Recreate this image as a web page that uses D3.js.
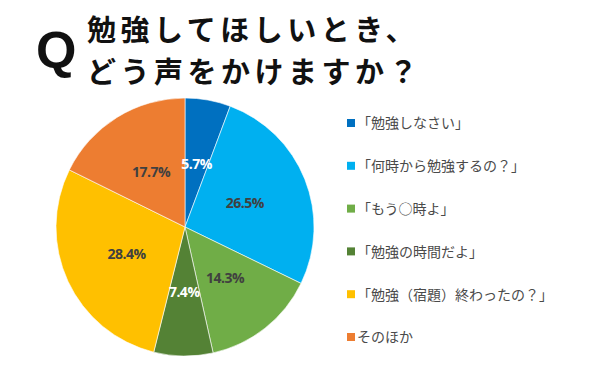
<!DOCTYPE html>
<html>
<head>
<meta charset="utf-8">
<script src="https://cdn.jsdelivr.net/npm/d3@7"></script>
<style>
  body { margin: 0; background: #fff; }
  svg { display: block; }
</style>
</head>
<body>
<div id="chart"></div>
<script>
// answers, clockwise from 12 o'clock
var labels = ["「勉強しなさい」", "「何時から勉強するの？」", "「もう○時よ」", "「勉強の時間だよ」", "「勉強（宿題）終わったの？」", "そのほか"];
var values = [5.7, 26.5, 14.3, 7.4, 28.4, 17.7];
var colors = ["#0070c0", "#00b0f0", "#70ad47", "#548235", "#ffc000", "#ed7d31"];
var labelColors = ["#fff", "#404040", "#404040", "#fff", "#404040", "#404040"];
var titleLines = ["勉強してほしいとき、", "どう声をかけますか？"];

var width = 600, height = 371;
var cx = 185, cy = 227, r = 129;

var svg = d3.select("#chart").append("svg")
    .attr("width", width)
    .attr("height", height);

// title
svg.append("text")
    .attr("x", 36)
    .attr("y", 68)
    .attr("font-family", "'Liberation Sans Narrow', 'Liberation Sans', sans-serif")
    .attr("font-weight", "bold")
    .attr("font-size", 52)
    .attr("fill", "#111")
    .text("Q");

svg.selectAll(".title")
    .data(titleLines)
    .enter().append("text")
    .attr("class", "title")
    .attr("x", 87)
    .attr("y", function (d, i) { return 41 + i * 42; })
    .attr("font-family", "'Noto Sans CJK JP', sans-serif")
    .attr("font-weight", 700)
    .attr("font-size", 29)
    .attr("letter-spacing", 4.5)
    .attr("fill", "#111")
    .text(function (d) { return d; });

// pie
var pie = d3.pie().sort(null).value(function (d) { return d; });
var arc = d3.arc().innerRadius(0).outerRadius(r);
var arcs = pie(values);

var g = svg.append("g")
    .attr("transform", "translate(" + cx + "," + cy + ")");

g.selectAll(".slice")
    .data(arcs)
    .enter().append("path")
    .attr("class", "slice")
    .attr("d", arc)
    .attr("fill", function (d, i) { return colors[i]; })
    .attr("stroke", "#fff")
    .attr("stroke-width", 0.6);

g.selectAll(".pct")
    .data(arcs)
    .enter().append("text")
    .attr("class", "pct")
    .attr("transform", function (d) { return "translate(" + arc.centroid(d) + ")"; })
    .attr("text-anchor", "middle")
    .attr("dy", "0.36em")
    .attr("font-family", "'Open Sans', sans-serif")
    .attr("font-weight", "bold")
    .attr("font-size", 14)
    .attr("letter-spacing", -0.5)
    .attr("fill", function (d, i) { return labelColors[i]; })
    .text(function (d) { return d.data.toFixed(1) + "%"; });

// legend
var ly = d3.scalePoint().domain(d3.range(labels.length)).range([123, 337]);

var legend = svg.selectAll(".legend")
    .data(labels)
    .enter().append("g")
    .attr("class", "legend")
    .attr("transform", function (d, i) { return "translate(347," + ly(i) + ")"; });

legend.append("rect")
    .attr("x", 0)
    .attr("y", -4)
    .attr("width", 8)
    .attr("height", 8)
    .attr("fill", function (d, i) { return colors[i]; });

legend.append("text")
    .attr("x", 10)
    .attr("dy", "0.38em")
    .attr("font-family", "'Noto Sans CJK JP', sans-serif")
    .attr("font-size", 14)
    .attr("fill", "#4a4a4a")
    .text(function (d) { return d; });
</script>
</body>
</html>
